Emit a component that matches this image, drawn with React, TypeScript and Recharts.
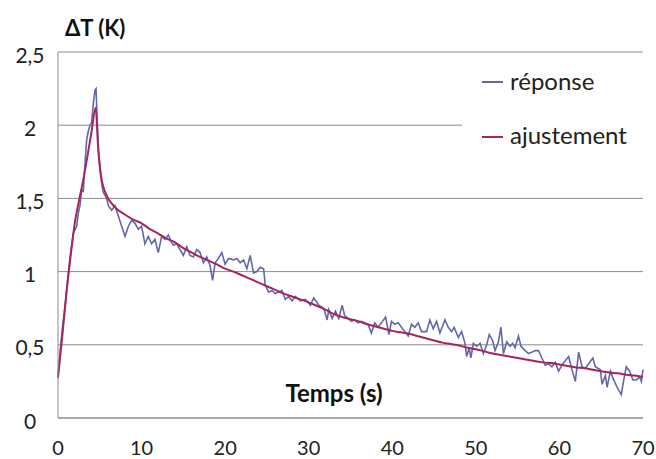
import React from 'react';
import { LineChart, Line, XAxis, YAxis, CartesianGrid, Legend } from 'recharts';

const respT = [0, 0.25, 0.5, 0.75, 1.04, 1.44, 1.83, 2.23, 2.43, 2.63, 2.83, 3.03, 3.23, 3.43, 3.63, 3.83, 4.03, 4.23, 4.43, 4.55, 4.83, 5.03, 5.23, 5.43, 5.82, 6.02, 6.42, 6.82, 7.22, 7.62, 8.02, 8.42, 8.81, 9.21, 9.61, 10.0, 10.4, 10.8, 11.2, 11.6, 12.0, 12.4, 12.8, 13.2, 13.6, 13.8, 14.2, 14.6, 15.0, 15.4, 15.8, 16.2, 16.6, 17.0, 17.4, 17.8, 18.2, 18.5, 18.8, 19.2, 19.6, 20.0, 20.4, 21.0, 21.4, 21.8, 22.2, 22.6, 23.0, 23.4, 23.8, 24.2, 24.6, 24.8, 25.2, 25.6, 26.0, 26.4, 26.8, 27.2, 27.6, 28.0, 28.4, 29.0, 29.6, 30.2, 30.6, 31.2, 31.8, 32.2, 32.4, 32.8, 33.2, 33.6, 34.0, 34.3, 34.7, 35.1, 35.5, 35.9, 36.3, 36.7, 37.1, 37.5, 37.9, 38.3, 38.7, 39.2, 39.6, 39.9, 40.3, 40.7, 41.1, 41.5, 41.9, 42.3, 42.7, 43.1, 43.5, 44.1, 44.5, 44.9, 45.3, 45.7, 46.3, 46.7, 47.1, 47.4, 47.9, 48.3, 48.7, 48.9, 49.2, 49.4, 49.7, 50.1, 50.5, 50.9, 51.3, 51.6, 52.0, 52.3, 52.7, 53.0, 53.3, 53.7, 54.1, 54.4, 54.7, 55.1, 55.4, 55.9, 56.3, 56.7, 57.1, 57.5, 57.9, 58.3, 58.7, 59.1, 59.5, 59.9, 60.4, 61.1, 61.5, 61.9, 62.3, 62.7, 63.1, 63.5, 64.0, 64.3, 64.9, 65.1, 65.5, 65.7, 66.1, 66.5, 66.9, 67.4, 67.7, 68.0, 68.4, 68.8, 69.2, 69.6, 69.8, 70.0];
const respV = [0.27, 0.45, 0.6, 0.72, 0.87, 1.10, 1.26, 1.31, 1.40, 1.45, 1.56, 1.55, 1.74, 1.90, 1.96, 2.00, 2.02, 2.15, 2.24, 2.25, 1.83, 1.70, 1.60, 1.54, 1.50, 1.45, 1.42, 1.45, 1.38, 1.31, 1.24, 1.31, 1.35, 1.33, 1.29, 1.31, 1.19, 1.24, 1.19, 1.22, 1.13, 1.24, 1.22, 1.25, 1.20, 1.18, 1.19, 1.15, 1.11, 1.17, 1.11, 1.10, 1.15, 1.13, 1.06, 1.10, 1.04, 0.94, 1.06, 1.09, 1.13, 1.05, 1.09, 1.08, 1.09, 1.06, 1.08, 1.02, 1.11, 0.99, 1.00, 1.03, 1.02, 0.91, 0.86, 0.87, 0.85, 0.86, 0.87, 0.81, 0.83, 0.80, 0.83, 0.80, 0.81, 0.77, 0.82, 0.77, 0.75, 0.67, 0.74, 0.68, 0.73, 0.68, 0.77, 0.70, 0.68, 0.66, 0.67, 0.65, 0.66, 0.65, 0.64, 0.58, 0.65, 0.62, 0.65, 0.69, 0.57, 0.66, 0.64, 0.65, 0.62, 0.59, 0.56, 0.64, 0.62, 0.65, 0.59, 0.59, 0.67, 0.61, 0.66, 0.58, 0.67, 0.62, 0.59, 0.62, 0.55, 0.59, 0.51, 0.42, 0.48, 0.41, 0.51, 0.49, 0.51, 0.44, 0.50, 0.57, 0.53, 0.46, 0.52, 0.62, 0.44, 0.52, 0.49, 0.51, 0.48, 0.56, 0.49, 0.46, 0.44, 0.45, 0.46, 0.46, 0.41, 0.36, 0.37, 0.35, 0.38, 0.32, 0.37, 0.42, 0.33, 0.25, 0.45, 0.35, 0.34, 0.37, 0.41, 0.35, 0.33, 0.23, 0.29, 0.21, 0.32, 0.26, 0.21, 0.16, 0.26, 0.35, 0.32, 0.26, 0.26, 0.28, 0.25, 0.33];

const fitT = [0, 0.5, 1, 1.5, 2, 2.5, 3, 3.5, 4, 4.5, 4.8, 5.0, 5.25, 5.6, 6, 6.5, 7, 8, 9, 10, 11, 12, 13, 14, 15, 16, 17, 18, 19, 20, 21, 22, 23, 24, 25, 26, 27, 28, 29, 30, 31, 32, 33, 34, 35, 36, 37, 38, 39, 40, 41, 42, 43, 44, 45, 46, 47, 48, 49, 50, 51, 52, 53, 54, 55, 56, 57, 58, 59, 60, 61, 62, 63, 64, 65, 66, 67, 68, 69, 70];
const fitV = [0.28, 0.55, 0.85, 1.1, 1.33, 1.48, 1.62, 1.78, 1.95, 2.12, 1.85, 1.72, 1.62, 1.55, 1.50, 1.46, 1.43, 1.39, 1.355, 1.33, 1.29, 1.26, 1.225, 1.20, 1.16, 1.13, 1.10, 1.075, 1.05, 1.02, 1.0, 0.975, 0.95, 0.925, 0.90, 0.875, 0.85, 0.83, 0.81, 0.79, 0.765, 0.74, 0.71, 0.69, 0.675, 0.66, 0.64, 0.625, 0.61, 0.595, 0.585, 0.575, 0.56, 0.545, 0.53, 0.515, 0.505, 0.495, 0.48, 0.47, 0.455, 0.44, 0.43, 0.42, 0.41, 0.40, 0.39, 0.38, 0.375, 0.365, 0.355, 0.345, 0.34, 0.33, 0.32, 0.31, 0.305, 0.295, 0.29, 0.28];

const xTicks = [0, 10, 20, 30, 40, 50, 60, 70];
const yTicks = [0, 0.5, 1, 1.5, 2, 2.5];
const seriesNames = ['réponse', 'ajustement'];
const seriesColors = ['#6367A8', '#A3265C'];
const yTitle = 'ΔT (K)';
const xTitle = 'Temps (s)';

const respData = respT.map((t, i) => ({ t, v: respV[i] }));
const fitData = fitT.map((t, i) => ({ t, v: fitV[i] }));

const FONT = 'Lato, "Open Sans", sans-serif';
const GRID = '#8c8c8c';

const YTick = (props: any) => {
  const { y, payload } = props;
  return (
    <text x={30} y={y + 2} textAnchor="middle" dominantBaseline="central" fontFamily={FONT} fontSize={21} fill="#222">
      {String(payload.value).replace('.', ',')}
    </text>
  );
};

const XTick = (props: any) => {
  const { x, y, payload } = props;
  return (
    <text x={x} y={y} dy={29} textAnchor="middle" fontFamily={FONT} fontSize={20} fill="#222">
      {String(payload.value)}
    </text>
  );
};

const LegendContent = () => (
  <div style={{ position: 'relative', width: 181, height: 100, background: '#fff', fontFamily: FONT, fontSize: 24, color: '#222' }}>
    {seriesNames.map((n, i) => (
      <React.Fragment key={n}>
        <div style={{ position: 'absolute', left: 20, top: 21 + i * 55, width: 21, height: 2, background: seriesColors[i] }} />
        <div style={{ position: 'absolute', left: 48, top: 6 + i * 54, lineHeight: '30px', whiteSpace: 'nowrap' }}>{n}</div>
      </React.Fragment>
    ))}
  </div>
);

export default function App() {
  return (
    <div style={{ position: 'absolute', left: 0, top: 0, width: 656, height: 459, background: '#fff', overflow: 'hidden' }}>
      <LineChart width={656} height={459} data={respData} margin={{ top: 52, right: 13, left: 0, bottom: 0 }}>
        <CartesianGrid vertical={false} stroke={GRID} strokeWidth={1} />
        <XAxis
          type="number"
          dataKey="t"
          domain={[0, 70]}
          ticks={xTicks}
          height={41}
          tickLine={false}
          axisLine={{ stroke: GRID }}
          tick={<XTick />}
          interval={0}
        />
        <YAxis
          type="number"
          domain={[0, 2.5]}
          ticks={yTicks}
          width={58}
          tickLine={false}
          axisLine={{ stroke: GRID }}
          tick={<YTick />}
          interval={0}
        />
        <Line data={respData} dataKey="v" name={seriesNames[0]} stroke={seriesColors[0]} strokeWidth={1.6} dot={false} isAnimationActive={false} type="linear" />
        <Line data={fitData} dataKey="v" name={seriesNames[1]} stroke={seriesColors[1]} strokeWidth={2} dot={false} isAnimationActive={false} type="monotone" />
        <Legend
          layout="vertical"
          align="center"
          verticalAlign="middle"
          wrapperStyle={{ left: 462, top: 60, width: 181, height: 100 }}
          content={<LegendContent />}
        />
      </LineChart>
      <svg width={656} height={459} style={{ position: 'absolute', left: 0, top: 0, pointerEvents: 'none' }}>
        <text x={65} y={36} fontFamily={FONT} fontWeight="bold" fontSize={22} fill="#111">{yTitle}</text>
        <text x={334} y={402} textAnchor="middle" fontFamily={FONT} fontWeight="bold" fontSize={24} fill="#111">{xTitle}</text>
      </svg>
    </div>
  );
}
